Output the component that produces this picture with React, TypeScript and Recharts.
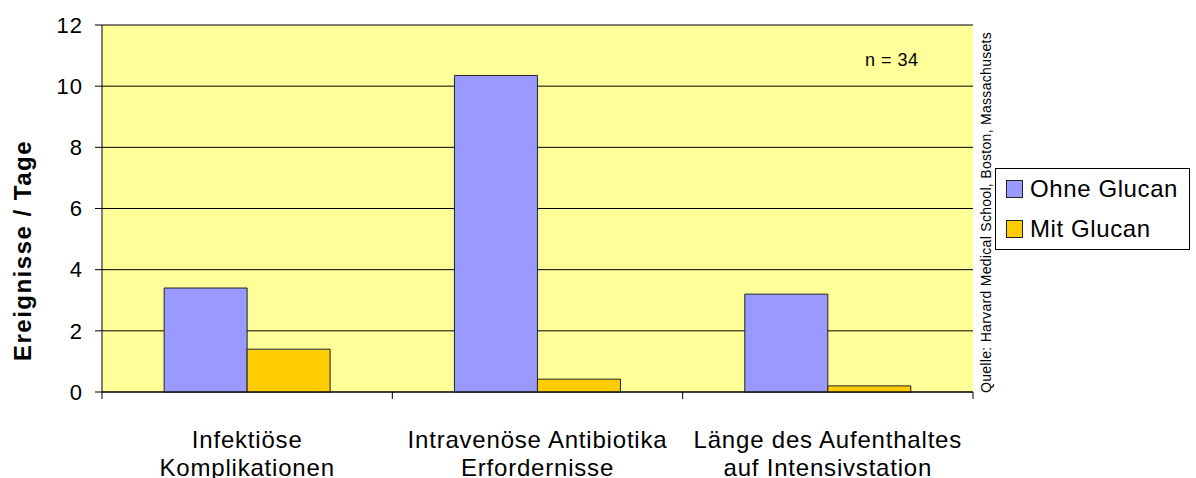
import {
  Bar,
  BarChart,
  CartesianGrid,
  Label,
  Legend,
  XAxis,
  YAxis,
} from "recharts";

const CATEGORIES = [
  "Infektiöse|Komplikationen",
  "Intravenöse Antibiotika|Erfordernisse",
  "Länge des Aufenthaltes|auf Intensivstation",
];
const OHNE_GLUCAN = [3.4, 10.35, 3.2];
const MIT_GLUCAN = [1.4, 0.42, 0.2];
const Y_TICKS = [0, 2, 4, 6, 8, 10, 12];
const LEGEND_ORDER = ["Ohne Glucan", "Mit Glucan"];

const data = CATEGORIES.map((name, i) => ({
  name,
  ohne: OHNE_GLUCAN[i],
  mit: MIT_GLUCAN[i],
}));

const FONT = "'Liberation Sans', Arial, sans-serif";

function CategoryTick(props: any) {
  const { x, y, payload, index } = props;
  const half = payload.offset ?? 0;
  const [l1, l2] = String(payload.value).split("|");
  return (
    <g>
      <line x1={x - half} x2={x - half} y1={y} y2={y + 7} stroke="#000" />
      {index === CATEGORIES.length - 1 && (
        <line x1={x + half} x2={x + half} y1={y} y2={y + 7} stroke="#000" />
      )}
      <text
        x={x}
        y={y}
        textAnchor="middle"
        fontSize={24}
        letterSpacing={0.8}
        fontFamily={FONT}
        fill="#000"
      >
        <tspan x={x} dy={56}>{l1}</tspan>
        <tspan x={x} dy={28}>{l2}</tspan>
      </text>
    </g>
  );
}

// y-axis title sits a bit below the plot's vertical centre in the original
function YTitle(props: any) {
  const vb = props.viewBox ?? { x: 0, y: 0, height: 0 };
  const cx = vb.x + 22;
  const cy = vb.y + vb.height / 2 + 42;
  return (
    <text
      x={cx}
      y={cy}
      transform={`rotate(-90, ${cx}, ${cy})`}
      textAnchor="middle"
      dominantBaseline="central"
      fontSize={24}
      fontWeight="bold"
      letterSpacing={1.5}
      fontFamily={FONT}
      fill="#000"
    >
      Ereignisse / Tage
    </text>
  );
}

function LegendBox(props: any) {
  const items = [...(props.payload ?? [])].sort(
    (a: any, b: any) => LEGEND_ORDER.indexOf(a.value) - LEGEND_ORDER.indexOf(b.value)
  );
  return (
    <div
      style={{
        border: "1px solid #000",
        background: "#fff",
        width: 195,
        height: 82,
        boxSizing: "border-box",
        padding: "0 0 0 10px",
        fontFamily: FONT,
        fontSize: 24,
        letterSpacing: 0.6,
      }}
    >
      {items.map((it: any) => (
        <div key={it.value} style={{ display: "flex", alignItems: "center", height: 40 }}>
          <span
            style={{
              display: "inline-block",
              width: 15,
              height: 16,
              background: it.color,
              border: "1px solid #222",
              marginRight: 7,
              flexShrink: 0,
            }}
          />
          <span style={{ color: "#000", whiteSpace: "nowrap" }}>{it.value}</span>
        </div>
      ))}
    </div>
  );
}

export default function App() {
  return (
    <div style={{ position: "absolute", left: 0, top: 0, width: 1196, height: 478, background: "#fff" }}>
      <BarChart
        width={1196}
        height={478}
        data={data}
        margin={{ top: 25, right: 223, left: 0, bottom: 0 }}
        barCategoryGap="21.4%"
        barGap={0}
        style={{ fontFamily: FONT }}
      >
        <CartesianGrid horizontal vertical={false} stroke="#000" fill="#FFFF99" fillOpacity={1} />
        <XAxis
          dataKey="name"
          height={86}
          axisLine={{ stroke: "#000" }}
          tickLine={false}
          tickSize={0}
          tickMargin={0}
          interval={0}
          tick={<CategoryTick />}
        />
        <YAxis
          width={102}
          domain={[0, 12]}
          ticks={Y_TICKS}
          axisLine={{ stroke: "#000" }}
          tickLine={{ stroke: "#000" }}
          tickSize={7}
          tickMargin={12}
          tick={{ fontSize: 22, fill: "#000", fontFamily: FONT, letterSpacing: 1 }}
        >
          <Label content={<YTitle />} />
        </YAxis>
        <YAxis
          yAxisId="border"
          orientation="right"
          width={0}
          tick={false}
          tickLine={false}
          axisLine={{ stroke: "#808080" }}
          domain={[0, 12]}
        />
        <Legend
          layout="horizontal"
          verticalAlign="middle"
          align="center"
          content={<LegendBox />}
          wrapperStyle={{ left: 995, top: 168, width: 195, right: "auto", bottom: "auto" }}
        />
        <Bar dataKey="ohne" name="Ohne Glucan" fill="#9999FF" stroke="#222" isAnimationActive={false} />
        <Bar dataKey="mit" name="Mit Glucan" fill="#FFCC00" stroke="#222" isAnimationActive={false} />
      </BarChart>
      <div
        style={{
          position: "absolute",
          left: 865,
          top: 50,
          fontFamily: FONT,
          fontSize: 18,
          letterSpacing: 0.5,
          color: "#000",
          whiteSpace: "nowrap",
        }}
      >
        n = 34
      </div>
      <div
        style={{
          position: "absolute",
          left: 986,
          top: 393,
          transform: "rotate(-90deg)",
          transformOrigin: "0 0",
          whiteSpace: "nowrap",
          fontFamily: FONT,
          fontSize: 14,
          letterSpacing: 0.3,
          lineHeight: "16px",
          color: "#000",
        }}
      >
        <span style={{ position: "relative", top: -8 }}>
          Quelle: Harvard Medical School, Boston, Massachusets
        </span>
      </div>
    </div>
  );
}
